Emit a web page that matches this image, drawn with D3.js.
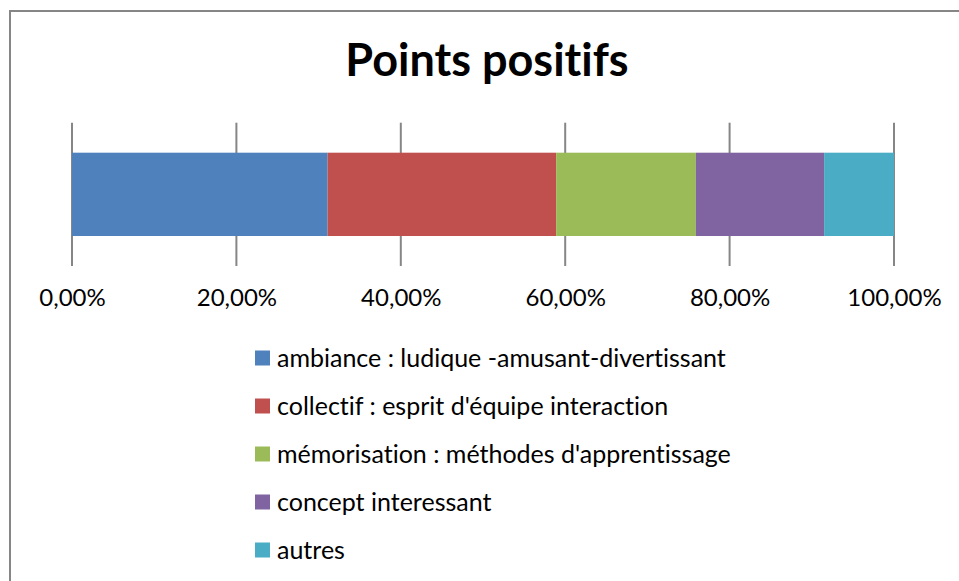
<!DOCTYPE html>
<html>
<head>
<meta charset="utf-8">
<script src="https://cdn.jsdelivr.net/npm/d3@7"></script>
<style>
  body { margin: 0; background: #fff; }
  text { font-family: Lato, "Open Sans", sans-serif; fill: #000; font-variant-ligatures: none; }
</style>
</head>
<body>
<svg id="chart" width="959" height="581"></svg>
<script>
const svg = d3.select('#chart')
const gridColor = '#868686'

// data
const categories = ['ambiance : ludique -amusant-divertissant', "collectif : esprit d'équipe interaction", "mémorisation : méthodes d'apprentissage", 'concept interessant', 'autres']
const values = [0.311, 0.278, 0.170, 0.156, 0.085]
const colors = ['#4f81bd', '#c0504d', '#9bbb59', '#8064a2', '#4bacc6']
const tickValues = [0, 0.2, 0.4, 0.6, 0.8, 1.0]

// chart frame (runs off the picture to the right and bottom)
svg.append('rect')
  .attr('x', 10).attr('y', 11)
  .attr('width', 1000).attr('height', 620)
  .attr('fill', 'none')
  .attr('stroke', gridColor)
  .attr('stroke-width', 2)

svg.append('text')
  .attr('x', 487).attr('y', 76)
  .attr('text-anchor', 'middle')
  .style('font-size', '45px')
  .style('font-weight', 'bold')
  .text('Points positifs')

const xScale = d3.scaleLinear().domain([0, 1]).range([72, 894])
const yScale = d3.scaleBand().domain(['row']).range([122.7, 266]).paddingInner(0).paddingOuter(0.36)

const frLocale = d3.formatLocale({ decimal: ',', thousands: ' ', grouping: [3], currency: ['', ' €'], percent: '%' })
const fmt = frLocale.format('.2%')

// vertical gridlines
svg.append('g')
  .selectAll('line')
  .data(tickValues)
  .join('line')
  .attr('x1', d => xScale(d)).attr('x2', d => xScale(d))
  .attr('y1', 122.7).attr('y2', 266)
  .attr('stroke', gridColor)
  .attr('stroke-width', 2)

// stacked segments
let acc = 0
const stacked = values.map((v, i) => {
  const s = { start: acc, end: acc + v, color: colors[i] }
  acc += v
  return s
})

svg.append('g')
  .selectAll('rect')
  .data(stacked)
  .join('rect')
  .attr('x', d => xScale(d.start))
  .attr('width', d => xScale(d.end) - xScale(d.start))
  .attr('y', yScale('row'))
  .attr('height', yScale.bandwidth())
  .attr('fill', d => d.color)

// x axis labels
const xAxis = d3.axisBottom(xScale)
  .tickValues(tickValues)
  .tickFormat(fmt)
  .tickSize(0)
  .tickPadding(0)

const axisG = svg.append('g')
  .attr('transform', 'translate(0, 289)')
  .call(xAxis)
axisG.select('.domain').remove()
axisG.selectAll('text')
  .style('font-family', 'Lato, sans-serif')
  .style('font-size', '24px')
  .attr('fill', '#000')

// legend
const legend = svg.append('g')
  .selectAll('g')
  .data(categories)
  .join('g')
  .attr('transform', (d, i) => `translate(255, ${358 + i * 48})`)

legend.append('rect')
  .attr('x', 0).attr('y', -7.5)
  .attr('width', 15).attr('height', 15)
  .attr('fill', (d, i) => colors[i])

legend.append('text')
  .attr('x', 22).attr('y', 9)
  .style('font-size', '25px')
  .text(d => d)
</script>
</body>
</html>
